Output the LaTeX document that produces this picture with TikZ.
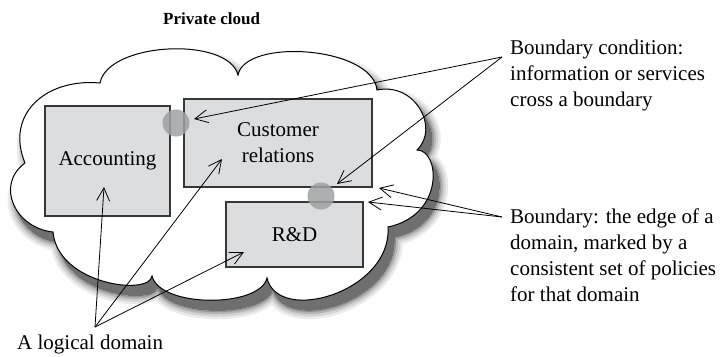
\documentclass[tikz,border=0pt]{standalone}
\usepackage{fontspec}
\setmainfont{Liberation Serif}
\usetikzlibrary{arrows.meta}
\definecolor{boxfill}{RGB}{220,221,223}
\definecolor{boxdraw}{RGB}{55,55,55}
\definecolor{dotfill}{RGB}{160,161,164}
\tikzset{
  domainbox/.style={draw=boxdraw, fill=boxfill, line width=1.2pt, inner sep=0pt, align=center, font=\fontsize{21}{26}\selectfont},
  bdot/.style={circle, fill=dotfill, fill opacity=0.85, inner sep=0pt, minimum size=27pt},
  arr/.style={line width=0.8pt, -{Straight Barb[length=13pt,width=13pt,line width=0.8pt]}},
  lbl/.style={inner sep=0pt, align=left, font=\fontsize{21}{26}\selectfont},
}
\def\cloudpath{(25,163) .. controls (5,115) and (45,78) .. (100,83)
  .. controls (108,42) and (228,36) .. (238,75)
  .. controls (245,38) and (372,46) .. (377,90)
  .. controls (415,82) and (440,128) .. (417,150)
  .. controls (440,150) and (445,215) .. (388,227)
  .. controls (392,292) and (278,325) .. (267,278)
  .. controls (260,308) and (160,308) .. (152,276)
  .. controls (150,296) and (58,285) .. (53,232)
  .. controls (15,228) and (-5,185) .. (25,163) -- cycle}
\begin{document}
\begin{tikzpicture}[x=1pt,y=-1pt]
\useasboundingbox (0,0) rectangle (720,356);
% shadow
\foreach \w/\o in {18/0.08,13/0.10,8/0.14,4/0.18,0/0.25}{
  \begin{scope}[transparency group, opacity=\o]
    \path[shift={(6,10)}, fill=black, draw=black, line width=\w pt, line join=round] \cloudpath;
  \end{scope}
}
\path[fill=white, draw=black, line width=1pt] \cloudpath;
% title
\node[anchor=base west, inner sep=0pt, font=\fontsize{17}{20}\selectfont\bfseries] (title) at (163,24) {Private cloud};
% domains
\node[domainbox, minimum width=125pt, minimum height=110pt] (acc) at (107.5,161) {Accounting};
\node[domainbox, minimum width=188pt, minimum height=88pt] (cr) at (278,143) {Customer\\relations};
\node[domainbox, minimum width=137pt, minimum height=65pt] (rd) at (294.5,234.5) {R\&D};
% boundary dots
\node[bdot] (dot1) at (176,123) {};
\node[bdot] (dot2) at (321,196) {};
% labels
\node[lbl, anchor=north west] (bc) at (510,40) {Boundary condition:\\information or services\\cross a boundary};
\node[lbl, anchor=north west] (bd) at (510,209) {Boundary: the edge of a\\domain, marked by a\\consistent set of policies\\for that domain};
\node[lbl, anchor=base west] (ld) at (17,349) {A logical domain};
% connector ends
\coordinate (bcA) at (502,57);
\coordinate (bdA) at (502,217);
\coordinate (ldA) at (95,327);
\coordinate (t1) at (194,119);
\coordinate (t2) at (337,184);
\coordinate (t3) at (379,188);
\coordinate (t4) at (368,202);
\coordinate (t5) at (104,187);
\coordinate (t6) at (222,159);
\coordinate (t7) at (244,252);
\draw[arr] (bcA) -- (t1);
\draw[arr] (bcA) -- (t2);
\draw[arr] (bdA) -- (t3);
\draw[arr] (bdA) -- (t4);
\draw[arr] (ldA) -- (t5);
\draw[arr] (ldA) -- (t6);
\draw[arr] (ldA) -- (t7);
\end{tikzpicture}
\end{document}
